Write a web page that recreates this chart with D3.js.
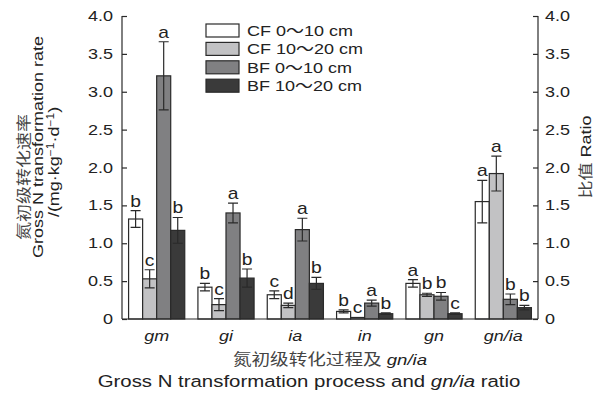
<!DOCTYPE html>
<html>
<head>
<meta charset="utf-8">
<script src="https://cdn.jsdelivr.net/npm/d3@7"></script>
<style>
  html, body { margin: 0; padding: 0; background: #fff; }
  svg { display: block; }
  text { font-family: "Liberation Sans", Arial, "Noto Sans CJK SC", sans-serif; fill: #222; }
</style>
</head>
<body>
<svg id="chart" width="595" height="394"></svg>
<script>
// Gross N transformation processes and the gn/ia ratio
const categories = ["gm", "gi", "ia", "in", "gn", "gn/ia"];
const seriesNames = ["CF 0～10 cm", "CF 10～20 cm", "BF 0～10 cm", "BF 10～20 cm"];

const cf0 = [1.32, 0.42, 0.32, 0.10, 0.47, 1.55];
const cf10 = [0.53, 0.19, 0.18, 0.02, 0.32, 1.92];
const bf0 = [3.21, 1.40, 1.18, 0.21, 0.30, 0.26];
const bf10 = [1.17, 0.54, 0.47, 0.07, 0.07, 0.15];

const cf0Err = [0.11, 0.05, 0.05, 0.02, 0.05, 0.28];
const cf10Err = [0.12, 0.08, 0.03, 0.00, 0.02, 0.23];
const bf0Err = [0.45, 0.13, 0.15, 0.04, 0.05, 0.07];
const bf10Err = [0.17, 0.12, 0.08, 0.01, 0.01, 0.03];

const cf0Sig = ["b", "b", "c", "b", "a", "a"];
const cf10Sig = ["c", "c", "d", "c", "b", "a"];
const bf0Sig = ["a", "a", "a", "a", "b", "b"];
const bf10Sig = ["b", "b", "b", "b", "c", "b"];

const yTicks = [0, 0.5, 1.0, 1.5, 2.0, 2.5, 3.0, 3.5, 4.0];
const yTickLabels = ["0", "0.5", "1.0", "1.5", "2.0", "2.5", "3.0", "3.5", "4.0"];

const fills = ["#ffffff", "#c2c2c4", "#808082", "#3a3a3a"];
const ink = "#2a2a2a";
const SX = 1.2; // glyphs in this figure are set wide

const series = [
  { name: seriesNames[0], values: cf0, err: cf0Err, sig: cf0Sig },
  { name: seriesNames[1], values: cf10, err: cf10Err, sig: cf10Sig },
  { name: seriesNames[2], values: bf0, err: bf0Err, sig: bf0Sig },
  { name: seriesNames[3], values: bf10, err: bf10Err, sig: bf10Sig }
];

const svg = d3.select("#chart");
const plot = { left: 122, right: 538, top: 16, bottom: 319 };

const x0 = d3.scaleBand().domain(categories)
  .range([plot.left, plot.right]).paddingInner(0.19).paddingOuter(0.095);
const x1 = d3.scaleBand().domain(d3.range(series.length))
  .range([0, x0.bandwidth()]);
const y = d3.scaleLinear().domain([0, 4]).range([plot.bottom, plot.top]);

// wide-set text helper
function label(g, x, yy, txt, opts = {}) {
  const t = g.append("text")
    .attr("transform", `translate(${x},${yy}) rotate(${opts.rotate || 0}) scale(${opts.sx || SX},1)`)
    .attr("text-anchor", opts.anchor || "middle")
    .style("font-size", (opts.size || 15) + "px");
  if (opts.italic) t.style("font-style", "italic");
  if (opts.fill) t.style("fill", opts.fill);
  if (txt != null) t.text(txt);
  return t;
}

// bars
const groups = svg.append("g").selectAll("g").data(categories).join("g")
  .attr("transform", d => `translate(${x0(d)},0)`);

series.forEach((s, si) => {
  groups.append("rect")
    .attr("x", x1(si))
    .attr("width", x1.bandwidth())
    .attr("y", (d, i) => y(s.values[i]))
    .attr("height", (d, i) => y(0) - y(s.values[i]))
    .attr("fill", fills[si])
    .attr("stroke", ink)
    .attr("stroke-width", 1.2);
});

// error bars
series.forEach((s, si) => {
  groups.each(function (d, i) {
    if (!s.err[i]) return;
    const g = d3.select(this);
    const cx = x1(si) + x1.bandwidth() / 2;
    const hi = y(s.values[i] + s.err[i]);
    const lo = y(s.values[i] - s.err[i]);
    const cap = 5;
    g.append("path")
      .attr("d", `M${cx},${hi}V${lo}M${cx - cap},${hi}H${cx + cap}M${cx - cap},${lo}H${cx + cap}`)
      .attr("stroke", ink).attr("stroke-width", 1.2).attr("fill", "none");
  });
});

// significance letters
series.forEach((s, si) => {
  groups.each(function (d, i) {
    const g = d3.select(this);
    const cx = x1(si) + x1.bandwidth() / 2;
    const top = y(s.values[i] + s.err[i]);
    label(g, cx, top - 4, s.sig[i], { size: 16 });
  });
});

// axes
const axisG = svg.append("g");
const leftAxis = d3.axisRight(y).tickValues(yTicks).tickSize(5).tickFormat("");
const rightAxis = d3.axisLeft(y).tickValues(yTicks).tickSize(5).tickFormat("");
axisG.append("g").attr("transform", `translate(${plot.left},0)`).call(leftAxis);
axisG.append("g").attr("transform", `translate(${plot.right},0)`).call(rightAxis);
axisG.selectAll(".domain").attr("d", null);
axisG.selectAll("line").attr("stroke", ink).attr("stroke-width", 1.2);
axisG.append("line").attr("x1", plot.left).attr("x2", plot.left)
  .attr("y1", plot.top).attr("y2", plot.bottom).attr("stroke", ink).attr("stroke-width", 1.2);
axisG.append("line").attr("x1", plot.right).attr("x2", plot.right)
  .attr("y1", plot.top).attr("y2", plot.bottom).attr("stroke", ink).attr("stroke-width", 1.2);
axisG.append("line").attr("x1", plot.left).attr("x2", plot.right)
  .attr("y1", plot.bottom).attr("y2", plot.bottom).attr("stroke", ink).attr("stroke-width", 1.2);

// tick labels
const tl = svg.append("g");
yTicks.forEach((v, i) => {
  label(tl, plot.left - 9, y(v) + 5, yTickLabels[i], { anchor: "end" });
  label(tl, plot.right + 7, y(v) + 5, yTickLabels[i], { anchor: "start" });
});

// category labels
categories.forEach(c => {
  label(tl, x0(c) + x0.bandwidth() / 2, 341, c, { italic: true });
});

// x titles
const xt = label(svg, (plot.left + plot.right) / 2, 365, null, { size: 15.5 });
xt.append("tspan").text("氮初级转化过程及 ").style("fill", "#444");
xt.append("tspan").text("gn/ia").style("font-style", "italic");

const xe = label(svg, 309, 387, null, { size: 17 });
xe.append("tspan").text("Gross N transformation process and ");
xe.append("tspan").text("gn/ia").style("font-style", "italic");
xe.append("tspan").text(" ratio");

// left y titles
label(svg, 29, 177, "氮初级转化速率", { rotate: -90, fill: "#444" });
label(svg, 43, 147, "Gross N transformation rate", { rotate: -90 });
const un = label(svg, 59, 162, null, { rotate: -90 });
un.append("tspan").text("/(mg·kg");
un.append("tspan").text("−1").attr("dy", -5).style("font-size", "10px");
un.append("tspan").text("·d").attr("dy", 5);
un.append("tspan").text("−1").attr("dy", -5).style("font-size", "10px");
un.append("tspan").text(")").attr("dy", 5);

// right y title
const rt = label(svg, 591, 157, null, { rotate: -90 });
rt.append("tspan").text("比值 ").style("fill", "#444");
rt.append("tspan").text("Ratio");

// legend
const lg = svg.append("g");
series.forEach((s, si) => {
  const yy = 24 + si * 18.4;
  lg.append("rect").attr("x", 206).attr("y", yy).attr("width", 33).attr("height", 13)
    .attr("fill", fills[si]).attr("stroke", ink).attr("stroke-width", 1.2);
  label(lg, 247, yy + 12, s.name, { anchor: "start" });
});
</script>
</body>
</html>
